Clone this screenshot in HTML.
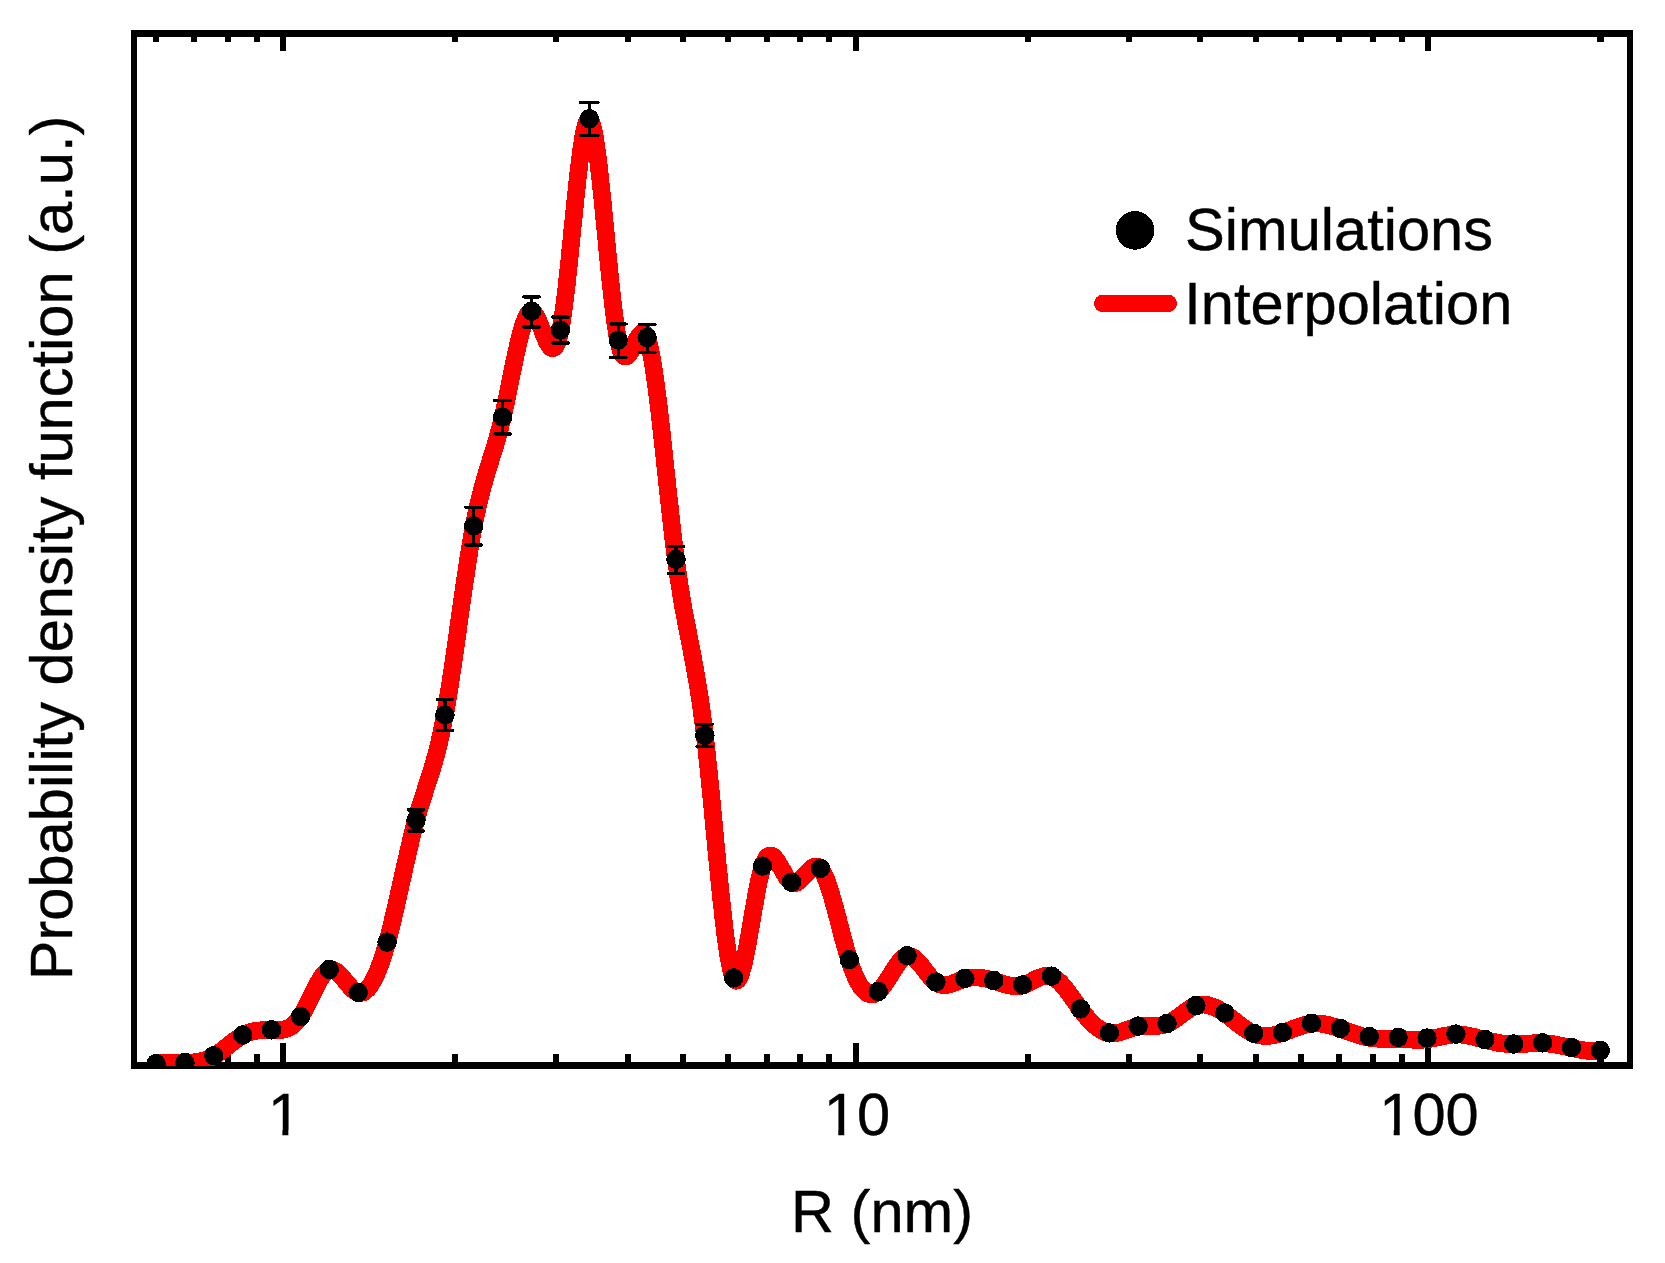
<!DOCTYPE html><html><head><meta charset="utf-8"><title>Probability density function</title>
<style>html,body{margin:0;padding:0;background:#fff}svg{display:block}text{font-family:"Liberation Sans",Arial,sans-serif;fill:#000}</style></head><body>
<svg width="1665" height="1263" viewBox="0 0 1665 1263">
<rect width="1665" height="1263" fill="#fff"/>
<g shape-rendering="crispEdges">
<g fill="#000">
<rect x="131" y="30" width="1502" height="7"/>
<rect x="131" y="1062" width="1502" height="7"/>
<rect x="131" y="30" width="6" height="1039"/>
<rect x="1627" y="30" width="6" height="1039"/>
<rect x="280" y="37" width="6" height="14"/><rect x="280" y="1043" width="6" height="19"/>
<rect x="853" y="37" width="6" height="14"/><rect x="853" y="1043" width="6" height="19"/>
<rect x="1425" y="37" width="6" height="14"/><rect x="1425" y="1043" width="6" height="19"/>
<rect x="153" y="37" width="6" height="5"/><rect x="153" y="1054" width="6" height="8"/>
<rect x="191" y="37" width="6" height="5"/><rect x="191" y="1054" width="6" height="8"/>
<rect x="225" y="37" width="6" height="5"/><rect x="225" y="1054" width="6" height="8"/>
<rect x="254" y="37" width="6" height="5"/><rect x="254" y="1054" width="6" height="8"/>
<rect x="452" y="37" width="6" height="5"/><rect x="452" y="1054" width="6" height="8"/>
<rect x="553" y="37" width="6" height="5"/><rect x="553" y="1054" width="6" height="8"/>
<rect x="625" y="37" width="6" height="5"/><rect x="625" y="1054" width="6" height="8"/>
<rect x="680" y="37" width="6" height="5"/><rect x="680" y="1054" width="6" height="8"/>
<rect x="725" y="37" width="6" height="5"/><rect x="725" y="1054" width="6" height="8"/>
<rect x="764" y="37" width="6" height="5"/><rect x="764" y="1054" width="6" height="8"/>
<rect x="797" y="37" width="6" height="5"/><rect x="797" y="1054" width="6" height="8"/>
<rect x="826" y="37" width="6" height="5"/><rect x="826" y="1054" width="6" height="8"/>
<rect x="1025" y="37" width="6" height="5"/><rect x="1025" y="1054" width="6" height="8"/>
<rect x="1126" y="37" width="6" height="5"/><rect x="1126" y="1054" width="6" height="8"/>
<rect x="1197" y="37" width="6" height="5"/><rect x="1197" y="1054" width="6" height="8"/>
<rect x="1253" y="37" width="6" height="5"/><rect x="1253" y="1054" width="6" height="8"/>
<rect x="1298" y="37" width="6" height="5"/><rect x="1298" y="1054" width="6" height="8"/>
<rect x="1336" y="37" width="6" height="5"/><rect x="1336" y="1054" width="6" height="8"/>
<rect x="1370" y="37" width="6" height="5"/><rect x="1370" y="1054" width="6" height="8"/>
<rect x="1399" y="37" width="6" height="5"/><rect x="1399" y="1054" width="6" height="8"/>
<rect x="1597" y="37" width="7" height="5"/><rect x="1597" y="1054" width="7" height="8"/>
</g>
<clipPath id="plotclip"><rect x="134" y="34" width="1496" height="1032"/></clipPath>
<g clip-path="url(#plotclip)">
<path d="M156.0,1063.6 L157.0,1063.4 L157.9,1063.3 L158.9,1063.1 L159.8,1063.0 L160.8,1062.9 L161.8,1062.8 L162.7,1062.7 L163.7,1062.6 L164.7,1062.6 L165.6,1062.5 L166.6,1062.5 L167.6,1062.5 L168.5,1062.4 L169.5,1062.4 L170.4,1062.4 L171.4,1062.4 L172.4,1062.4 L173.3,1062.4 L174.3,1062.4 L175.3,1062.4 L176.2,1062.4 L177.2,1062.5 L178.2,1062.5 L179.1,1062.5 L180.1,1062.5 L181.0,1062.5 L182.0,1062.5 L183.0,1062.5 L183.9,1062.5 L184.9,1062.5 L185.9,1062.5 L186.8,1062.5 L187.8,1062.4 L188.8,1062.4 L189.7,1062.4 L190.7,1062.3 L191.6,1062.2 L192.6,1062.1 L193.6,1062.1 L194.5,1061.9 L195.5,1061.8 L196.5,1061.7 L197.4,1061.5 L198.4,1061.4 L199.4,1061.2 L200.3,1061.0 L201.3,1060.8 L202.2,1060.5 L203.2,1060.3 L204.2,1060.0 L205.1,1059.7 L206.1,1059.3 L207.1,1059.0 L208.0,1058.6 L209.0,1058.2 L209.9,1057.8 L210.9,1057.3 L211.9,1056.8 L212.8,1056.3 L213.8,1055.8 L214.8,1055.2 L215.7,1054.6 L216.7,1054.0 L217.7,1053.3 L218.6,1052.7 L219.6,1052.0 L220.5,1051.3 L221.5,1050.5 L222.5,1049.8 L223.4,1049.1 L224.4,1048.3 L225.4,1047.5 L226.3,1046.8 L227.3,1046.0 L228.3,1045.2 L229.2,1044.4 L230.2,1043.7 L231.1,1042.9 L232.1,1042.2 L233.1,1041.4 L234.0,1040.7 L235.0,1040.0 L236.0,1039.3 L236.9,1038.6 L237.9,1037.9 L238.9,1037.3 L239.8,1036.7 L240.8,1036.1 L241.7,1035.5 L242.7,1035.0 L243.7,1034.5 L244.6,1034.0 L245.6,1033.6 L246.6,1033.2 L247.5,1032.8 L248.5,1032.4 L249.5,1032.1 L250.4,1031.8 L251.4,1031.5 L252.3,1031.3 L253.3,1031.1 L254.3,1030.8 L255.2,1030.7 L256.2,1030.5 L257.2,1030.4 L258.1,1030.2 L259.1,1030.1 L260.1,1030.0 L261.0,1029.9 L262.0,1029.9 L262.9,1029.8 L263.9,1029.8 L264.9,1029.8 L265.8,1029.7 L266.8,1029.7 L267.8,1029.7 L268.7,1029.7 L269.7,1029.8 L270.7,1029.8 L271.6,1029.8 L272.6,1029.8 L273.5,1029.9 L274.5,1029.9 L275.5,1029.9 L276.4,1029.9 L277.4,1029.9 L278.4,1029.9 L279.3,1029.8 L280.3,1029.7 L281.3,1029.7 L282.2,1029.5 L283.2,1029.4 L284.1,1029.1 L285.1,1028.9 L286.1,1028.6 L287.0,1028.3 L288.0,1027.9 L289.0,1027.4 L289.9,1026.9 L290.9,1026.3 L291.9,1025.7 L292.8,1025.0 L293.8,1024.2 L294.7,1023.3 L295.7,1022.4 L296.7,1021.4 L297.6,1020.3 L298.6,1019.1 L299.6,1017.8 L300.5,1016.4 L301.5,1014.9 L302.4,1013.3 L303.4,1011.6 L304.4,1009.9 L305.3,1008.1 L306.3,1006.2 L307.3,1004.3 L308.2,1002.4 L309.2,1000.4 L310.2,998.4 L311.1,996.4 L312.1,994.4 L313.0,992.5 L314.0,990.5 L315.0,988.6 L315.9,986.7 L316.9,984.8 L317.9,983.0 L318.8,981.3 L319.8,979.7 L320.8,978.1 L321.7,976.7 L322.7,975.3 L323.6,974.1 L324.6,972.9 L325.6,971.9 L326.5,971.1 L327.5,970.4 L328.5,969.8 L329.4,969.5 L330.4,969.3 L331.4,969.2 L332.3,969.3 L333.3,969.6 L334.2,970.0 L335.2,970.5 L336.2,971.1 L337.1,971.9 L338.1,972.7 L339.1,973.6 L340.0,974.6 L341.0,975.6 L342.0,976.7 L342.9,977.8 L343.9,978.9 L344.8,980.1 L345.8,981.3 L346.8,982.5 L347.7,983.6 L348.7,984.7 L349.7,985.8 L350.6,986.9 L351.6,987.9 L352.6,988.8 L353.5,989.7 L354.5,990.4 L355.4,991.1 L356.4,991.7 L357.4,992.1 L358.3,992.4 L359.3,992.6 L360.3,992.7 L361.2,992.6 L362.2,992.3 L363.2,992.0 L364.1,991.5 L365.1,990.8 L366.0,990.1 L367.0,989.2 L368.0,988.2 L368.9,987.0 L369.9,985.7 L370.9,984.3 L371.8,982.8 L372.8,981.1 L373.8,979.3 L374.7,977.4 L375.7,975.4 L376.6,973.2 L377.6,970.9 L378.6,968.5 L379.5,966.0 L380.5,963.3 L381.5,960.6 L382.4,957.7 L383.4,954.7 L384.4,951.6 L385.3,948.3 L386.3,945.0 L387.2,941.5 L388.2,938.0 L389.2,934.3 L390.1,930.5 L391.1,926.7 L392.1,922.7 L393.0,918.7 L394.0,914.6 L394.9,910.5 L395.9,906.3 L396.9,902.0 L397.8,897.8 L398.8,893.5 L399.8,889.1 L400.7,884.8 L401.7,880.4 L402.7,876.1 L403.6,871.8 L404.6,867.4 L405.5,863.1 L406.5,858.9 L407.5,854.6 L408.4,850.5 L409.4,846.3 L410.4,842.3 L411.3,838.3 L412.3,834.3 L413.3,830.5 L414.2,826.8 L415.2,823.1 L416.1,819.6 L417.1,816.1 L418.1,812.8 L419.0,809.6 L420.0,806.4 L421.0,803.3 L421.9,800.2 L422.9,797.2 L423.9,794.2 L424.8,791.3 L425.8,788.3 L426.7,785.4 L427.7,782.4 L428.7,779.4 L429.6,776.4 L430.6,773.3 L431.6,770.2 L432.5,767.0 L433.5,763.7 L434.5,760.3 L435.4,756.9 L436.4,753.3 L437.3,749.5 L438.3,745.7 L439.3,741.7 L440.2,737.5 L441.2,733.2 L442.2,728.6 L443.1,723.9 L444.1,719.0 L445.1,713.9 L446.0,708.5 L447.0,702.9 L447.9,697.2 L448.9,691.2 L449.9,685.1 L450.8,678.9 L451.8,672.5 L452.8,666.0 L453.7,659.4 L454.7,652.7 L455.7,646.0 L456.6,639.2 L457.6,632.3 L458.5,625.5 L459.5,618.6 L460.5,611.7 L461.4,604.9 L462.4,598.0 L463.4,591.3 L464.3,584.6 L465.3,578.0 L466.3,571.5 L467.2,565.1 L468.2,558.8 L469.1,552.6 L470.1,546.7 L471.1,540.9 L472.0,535.3 L473.0,529.9 L474.0,524.7 L474.9,519.7 L475.9,515.0 L476.9,510.4 L477.8,506.1 L478.8,501.9 L479.7,497.9 L480.7,494.0 L481.7,490.3 L482.6,486.7 L483.6,483.2 L484.6,479.8 L485.5,476.5 L486.5,473.3 L487.4,470.1 L488.4,466.9 L489.4,463.8 L490.3,460.7 L491.3,457.6 L492.3,454.5 L493.2,451.4 L494.2,448.3 L495.2,445.1 L496.1,441.8 L497.1,438.5 L498.0,435.0 L499.0,431.5 L500.0,427.9 L500.9,424.1 L501.9,420.2 L502.9,416.1 L503.8,411.9 L504.8,407.5 L505.8,403.0 L506.7,398.5 L507.7,393.8 L508.6,389.1 L509.6,384.4 L510.6,379.6 L511.5,374.8 L512.5,370.1 L513.5,365.4 L514.4,360.7 L515.4,356.2 L516.4,351.7 L517.3,347.4 L518.3,343.2 L519.2,339.2 L520.2,335.4 L521.2,331.8 L522.1,328.4 L523.1,325.2 L524.1,322.3 L525.0,319.7 L526.0,317.4 L527.0,315.5 L527.9,313.8 L528.9,312.6 L529.8,311.7 L530.8,311.3 L531.8,311.2 L532.7,311.6 L533.7,312.4 L534.7,313.6 L535.6,315.0 L536.6,316.7 L537.6,318.7 L538.5,320.8 L539.5,323.1 L540.4,325.5 L541.4,327.9 L542.4,330.4 L543.3,332.9 L544.3,335.3 L545.3,337.6 L546.2,339.8 L547.2,341.8 L548.2,343.6 L549.1,345.1 L550.1,346.4 L551.0,347.3 L552.0,347.8 L553.0,347.9 L553.9,347.5 L554.9,346.6 L555.9,345.2 L556.8,343.2 L557.8,340.6 L558.8,337.3 L559.7,333.3 L560.7,328.6 L561.6,323.1 L562.6,316.9 L563.6,310.1 L564.5,302.8 L565.5,294.9 L566.5,286.6 L567.4,277.9 L568.4,268.8 L569.4,259.6 L570.3,250.1 L571.3,240.6 L572.2,230.9 L573.2,221.3 L574.2,211.7 L575.1,202.3 L576.1,193.0 L577.1,184.0 L578.0,175.3 L579.0,167.0 L579.9,159.2 L580.9,151.8 L581.9,145.1 L582.8,138.9 L583.8,133.5 L584.8,128.8 L585.7,124.9 L586.7,121.9 L587.7,119.9 L588.6,118.9 L589.6,118.9 L590.5,120.1 L591.5,122.3 L592.5,125.4 L593.4,129.5 L594.4,134.4 L595.4,140.1 L596.3,146.5 L597.3,153.5 L598.3,161.2 L599.2,169.3 L600.2,177.9 L601.1,186.9 L602.1,196.2 L603.1,205.8 L604.0,215.6 L605.0,225.4 L606.0,235.4 L606.9,245.4 L607.9,255.3 L608.9,265.1 L609.8,274.6 L610.8,284.0 L611.7,293.0 L612.7,301.6 L613.7,309.7 L614.6,317.4 L615.6,324.4 L616.6,330.9 L617.5,336.6 L618.5,341.5 L619.5,345.6 L620.4,349.0 L621.4,351.7 L622.3,353.7 L623.3,355.1 L624.3,356.0 L625.2,356.3 L626.2,356.2 L627.2,355.7 L628.1,354.8 L629.1,353.7 L630.1,352.2 L631.0,350.6 L632.0,348.8 L632.9,346.8 L633.9,344.9 L634.9,342.9 L635.8,340.9 L636.8,339.1 L637.8,337.3 L638.7,335.8 L639.7,334.5 L640.7,333.5 L641.6,332.8 L642.6,332.5 L643.5,332.6 L644.5,333.2 L645.5,334.4 L646.4,336.1 L647.4,338.5 L648.4,341.5 L649.3,345.1 L650.3,349.3 L651.3,354.1 L652.2,359.4 L653.2,365.2 L654.1,371.4 L655.1,378.1 L656.1,385.1 L657.0,392.5 L658.0,400.2 L659.0,408.1 L659.9,416.4 L660.9,424.8 L661.9,433.4 L662.8,442.2 L663.8,451.1 L664.7,460.1 L665.7,469.1 L666.7,478.2 L667.6,487.2 L668.6,496.2 L669.6,505.0 L670.5,513.8 L671.5,522.4 L672.4,530.8 L673.4,539.0 L674.4,547.0 L675.3,554.7 L676.3,562.0 L677.3,569.0 L678.2,575.7 L679.2,582.1 L680.2,588.3 L681.1,594.2 L682.1,599.9 L683.0,605.5 L684.0,610.8 L685.0,616.1 L685.9,621.2 L686.9,626.2 L687.9,631.2 L688.8,636.1 L689.8,641.0 L690.8,646.0 L691.7,651.0 L692.7,656.0 L693.6,661.1 L694.6,666.4 L695.6,671.7 L696.5,677.3 L697.5,683.0 L698.5,688.9 L699.4,695.1 L700.4,701.5 L701.4,708.2 L702.3,715.3 L703.3,722.6 L704.2,730.3 L705.2,738.4 L706.2,746.9 L707.1,755.7 L708.1,764.9 L709.1,774.3 L710.0,783.9 L711.0,793.7 L712.0,803.6 L712.9,813.6 L713.9,823.7 L714.8,833.9 L715.8,844.0 L716.8,854.0 L717.7,864.0 L718.7,873.8 L719.7,883.4 L720.6,892.8 L721.6,901.9 L722.6,910.8 L723.5,919.3 L724.5,927.4 L725.4,935.1 L726.4,942.3 L727.4,949.0 L728.3,955.2 L729.3,960.8 L730.3,965.8 L731.2,970.1 L732.2,973.7 L733.2,976.6 L734.1,978.6 L735.1,979.9 L736.0,980.4 L737.0,980.3 L738.0,979.4 L738.9,978.0 L739.9,975.9 L740.9,973.4 L741.8,970.3 L742.8,966.8 L743.8,962.9 L744.7,958.6 L745.7,954.0 L746.6,949.1 L747.6,943.9 L748.6,938.6 L749.5,933.2 L750.5,927.6 L751.5,921.9 L752.4,916.3 L753.4,910.6 L754.4,905.1 L755.3,899.6 L756.3,894.3 L757.2,889.2 L758.2,884.3 L759.2,879.7 L760.1,875.4 L761.1,871.5 L762.1,867.9 L763.0,864.9 L764.0,862.3 L764.9,860.1 L765.9,858.4 L766.9,857.0 L767.8,856.0 L768.8,855.4 L769.8,855.1 L770.7,855.1 L771.7,855.3 L772.7,855.8 L773.6,856.6 L774.6,857.5 L775.5,858.6 L776.5,859.9 L777.5,861.3 L778.4,862.9 L779.4,864.5 L780.4,866.1 L781.3,867.9 L782.3,869.6 L783.3,871.3 L784.2,873.0 L785.2,874.6 L786.1,876.2 L787.1,877.6 L788.1,878.9 L789.0,880.1 L790.0,881.1 L791.0,881.9 L791.9,882.4 L792.9,882.8 L793.9,882.9 L794.8,882.8 L795.8,882.6 L796.7,882.2 L797.7,881.6 L798.7,880.9 L799.6,880.2 L800.6,879.3 L801.6,878.3 L802.5,877.3 L803.5,876.2 L804.5,875.2 L805.4,874.1 L806.4,873.0 L807.3,871.9 L808.3,870.9 L809.3,869.9 L810.2,869.0 L811.2,868.2 L812.2,867.5 L813.1,866.9 L814.1,866.5 L815.1,866.2 L816.0,866.2 L817.0,866.3 L817.9,866.6 L818.9,867.1 L819.9,867.9 L820.8,868.9 L821.8,870.2 L822.8,871.8 L823.7,873.5 L824.7,875.5 L825.7,877.8 L826.6,880.2 L827.6,882.7 L828.5,885.5 L829.5,888.4 L830.5,891.5 L831.4,894.6 L832.4,897.9 L833.4,901.3 L834.3,904.8 L835.3,908.3 L836.3,912.0 L837.2,915.6 L838.2,919.3 L839.1,923.0 L840.1,926.7 L841.1,930.4 L842.0,934.1 L843.0,937.7 L844.0,941.3 L844.9,944.9 L845.9,948.3 L846.9,951.7 L847.8,955.0 L848.8,958.1 L849.7,961.1 L850.7,964.0 L851.7,966.8 L852.6,969.4 L853.6,971.8 L854.6,974.2 L855.5,976.4 L856.5,978.5 L857.4,980.4 L858.4,982.2 L859.4,983.9 L860.3,985.4 L861.3,986.9 L862.3,988.2 L863.2,989.3 L864.2,990.3 L865.2,991.3 L866.1,992.0 L867.1,992.7 L868.0,993.2 L869.0,993.6 L870.0,993.9 L870.9,994.1 L871.9,994.1 L872.9,994.0 L873.8,993.8 L874.8,993.5 L875.8,993.0 L876.7,992.5 L877.7,991.8 L878.6,991.0 L879.6,990.1 L880.6,989.1 L881.5,987.9 L882.5,986.7 L883.5,985.5 L884.4,984.1 L885.4,982.7 L886.4,981.3 L887.3,979.8 L888.3,978.3 L889.2,976.7 L890.2,975.2 L891.2,973.6 L892.1,972.1 L893.1,970.5 L894.1,969.0 L895.0,967.6 L896.0,966.1 L897.0,964.7 L897.9,963.4 L898.9,962.2 L899.8,961.0 L900.8,959.9 L901.8,958.9 L902.7,958.1 L903.7,957.3 L904.7,956.7 L905.6,956.2 L906.6,955.8 L907.6,955.6 L908.5,955.6 L909.5,955.7 L910.4,955.9 L911.4,956.2 L912.4,956.7 L913.3,957.3 L914.3,958.0 L915.3,958.8 L916.2,959.6 L917.2,960.6 L918.2,961.6 L919.1,962.6 L920.1,963.8 L921.0,964.9 L922.0,966.1 L923.0,967.3 L923.9,968.6 L924.9,969.8 L925.9,971.1 L926.8,972.3 L927.8,973.5 L928.8,974.7 L929.7,975.9 L930.7,977.0 L931.6,978.1 L932.6,979.1 L933.6,980.0 L934.5,980.9 L935.5,981.7 L936.5,982.4 L937.4,983.0 L938.4,983.5 L939.4,983.9 L940.3,984.2 L941.3,984.5 L942.2,984.6 L943.2,984.8 L944.2,984.8 L945.1,984.8 L946.1,984.7 L947.1,984.6 L948.0,984.4 L949.0,984.2 L949.9,984.0 L950.9,983.7 L951.9,983.4 L952.8,983.0 L953.8,982.7 L954.8,982.3 L955.7,981.9 L956.7,981.5 L957.7,981.1 L958.6,980.7 L959.6,980.3 L960.5,979.9 L961.5,979.5 L962.5,979.2 L963.4,978.8 L964.4,978.5 L965.4,978.2 L966.3,978.0 L967.3,977.8 L968.3,977.6 L969.2,977.4 L970.2,977.3 L971.1,977.2 L972.1,977.1 L973.1,977.0 L974.0,977.0 L975.0,977.0 L976.0,977.0 L976.9,977.1 L977.9,977.1 L978.9,977.2 L979.8,977.3 L980.8,977.4 L981.7,977.6 L982.7,977.7 L983.7,977.9 L984.6,978.1 L985.6,978.3 L986.6,978.5 L987.5,978.8 L988.5,979.0 L989.5,979.3 L990.4,979.5 L991.4,979.8 L992.3,980.1 L993.3,980.4 L994.3,980.7 L995.2,981.0 L996.2,981.3 L997.2,981.6 L998.1,981.9 L999.1,982.2 L1000.1,982.6 L1001.0,982.9 L1002.0,983.2 L1002.9,983.5 L1003.9,983.7 L1004.9,984.0 L1005.8,984.3 L1006.8,984.5 L1007.8,984.7 L1008.7,985.0 L1009.7,985.1 L1010.7,985.3 L1011.6,985.5 L1012.6,985.6 L1013.5,985.7 L1014.5,985.7 L1015.5,985.8 L1016.4,985.8 L1017.4,985.7 L1018.4,985.7 L1019.3,985.6 L1020.3,985.4 L1021.3,985.2 L1022.2,985.0 L1023.2,984.7 L1024.1,984.4 L1025.1,984.1 L1026.1,983.7 L1027.0,983.3 L1028.0,982.8 L1029.0,982.4 L1029.9,981.9 L1030.9,981.4 L1031.9,980.9 L1032.8,980.4 L1033.8,979.9 L1034.7,979.4 L1035.7,978.9 L1036.7,978.4 L1037.6,978.0 L1038.6,977.6 L1039.6,977.2 L1040.5,976.8 L1041.5,976.5 L1042.4,976.2 L1043.4,975.9 L1044.4,975.7 L1045.3,975.6 L1046.3,975.5 L1047.3,975.5 L1048.2,975.5 L1049.2,975.6 L1050.2,975.8 L1051.1,976.1 L1052.1,976.4 L1053.0,976.9 L1054.0,977.4 L1055.0,978.0 L1055.9,978.6 L1056.9,979.4 L1057.9,980.2 L1058.8,981.0 L1059.8,981.9 L1060.8,982.9 L1061.7,983.9 L1062.7,985.0 L1063.6,986.1 L1064.6,987.3 L1065.6,988.5 L1066.5,989.7 L1067.5,991.0 L1068.5,992.2 L1069.4,993.5 L1070.4,994.9 L1071.4,996.2 L1072.3,997.6 L1073.3,998.9 L1074.2,1000.3 L1075.2,1001.6 L1076.2,1003.0 L1077.1,1004.3 L1078.1,1005.7 L1079.1,1007.0 L1080.0,1008.3 L1081.0,1009.6 L1082.0,1010.9 L1082.9,1012.1 L1083.9,1013.4 L1084.8,1014.6 L1085.8,1015.7 L1086.8,1016.9 L1087.7,1018.0 L1088.7,1019.0 L1089.7,1020.1 L1090.6,1021.1 L1091.6,1022.1 L1092.6,1023.0 L1093.5,1024.0 L1094.5,1024.8 L1095.4,1025.7 L1096.4,1026.5 L1097.4,1027.2 L1098.3,1027.9 L1099.3,1028.6 L1100.3,1029.3 L1101.2,1029.8 L1102.2,1030.4 L1103.2,1030.9 L1104.1,1031.3 L1105.1,1031.7 L1106.0,1032.1 L1107.0,1032.4 L1108.0,1032.6 L1108.9,1032.8 L1109.9,1033.0 L1110.9,1033.1 L1111.8,1033.1 L1112.8,1033.1 L1113.8,1033.1 L1114.7,1033.0 L1115.7,1032.9 L1116.6,1032.7 L1117.6,1032.5 L1118.6,1032.3 L1119.5,1032.0 L1120.5,1031.8 L1121.5,1031.5 L1122.4,1031.2 L1123.4,1030.8 L1124.4,1030.5 L1125.3,1030.2 L1126.3,1029.8 L1127.2,1029.5 L1128.2,1029.1 L1129.2,1028.8 L1130.1,1028.4 L1131.1,1028.1 L1132.1,1027.7 L1133.0,1027.4 L1134.0,1027.1 L1134.9,1026.8 L1135.9,1026.6 L1136.9,1026.4 L1137.8,1026.2 L1138.8,1026.0 L1139.8,1025.8 L1140.7,1025.7 L1141.7,1025.6 L1142.7,1025.6 L1143.6,1025.5 L1144.6,1025.5 L1145.5,1025.5 L1146.5,1025.5 L1147.5,1025.5 L1148.4,1025.5 L1149.4,1025.5 L1150.4,1025.6 L1151.3,1025.6 L1152.3,1025.6 L1153.3,1025.6 L1154.2,1025.6 L1155.2,1025.6 L1156.1,1025.6 L1157.1,1025.5 L1158.1,1025.5 L1159.0,1025.4 L1160.0,1025.3 L1161.0,1025.1 L1161.9,1025.0 L1162.9,1024.8 L1163.9,1024.5 L1164.8,1024.3 L1165.8,1024.0 L1166.7,1023.6 L1167.7,1023.2 L1168.7,1022.8 L1169.6,1022.3 L1170.6,1021.8 L1171.6,1021.2 L1172.5,1020.6 L1173.5,1020.0 L1174.5,1019.4 L1175.4,1018.7 L1176.4,1018.1 L1177.3,1017.4 L1178.3,1016.7 L1179.3,1016.0 L1180.2,1015.2 L1181.2,1014.5 L1182.2,1013.8 L1183.1,1013.1 L1184.1,1012.4 L1185.1,1011.7 L1186.0,1011.0 L1187.0,1010.3 L1187.9,1009.7 L1188.9,1009.1 L1189.9,1008.5 L1190.8,1007.9 L1191.8,1007.3 L1192.8,1006.8 L1193.7,1006.4 L1194.7,1006.0 L1195.7,1005.6 L1196.6,1005.3 L1197.6,1005.0 L1198.5,1004.8 L1199.5,1004.6 L1200.5,1004.4 L1201.4,1004.4 L1202.4,1004.3 L1203.4,1004.3 L1204.3,1004.3 L1205.3,1004.4 L1206.3,1004.5 L1207.2,1004.7 L1208.2,1004.9 L1209.1,1005.1 L1210.1,1005.4 L1211.1,1005.7 L1212.0,1006.0 L1213.0,1006.4 L1214.0,1006.7 L1214.9,1007.2 L1215.9,1007.6 L1216.9,1008.1 L1217.8,1008.6 L1218.8,1009.1 L1219.7,1009.7 L1220.7,1010.3 L1221.7,1010.9 L1222.6,1011.5 L1223.6,1012.2 L1224.6,1012.8 L1225.5,1013.5 L1226.5,1014.2 L1227.4,1014.9 L1228.4,1015.7 L1229.4,1016.4 L1230.3,1017.1 L1231.3,1017.9 L1232.3,1018.7 L1233.2,1019.4 L1234.2,1020.2 L1235.2,1021.0 L1236.1,1021.8 L1237.1,1022.5 L1238.0,1023.3 L1239.0,1024.0 L1240.0,1024.8 L1240.9,1025.5 L1241.9,1026.2 L1242.9,1026.9 L1243.8,1027.6 L1244.8,1028.3 L1245.8,1028.9 L1246.7,1029.6 L1247.7,1030.2 L1248.6,1030.8 L1249.6,1031.3 L1250.6,1031.8 L1251.5,1032.3 L1252.5,1032.8 L1253.5,1033.2 L1254.4,1033.6 L1255.4,1033.9 L1256.4,1034.3 L1257.3,1034.5 L1258.3,1034.8 L1259.2,1035.0 L1260.2,1035.2 L1261.2,1035.3 L1262.1,1035.4 L1263.1,1035.5 L1264.1,1035.6 L1265.0,1035.6 L1266.0,1035.6 L1267.0,1035.6 L1267.9,1035.6 L1268.9,1035.5 L1269.8,1035.4 L1270.8,1035.3 L1271.8,1035.1 L1272.7,1035.0 L1273.7,1034.8 L1274.7,1034.6 L1275.6,1034.4 L1276.6,1034.2 L1277.6,1033.9 L1278.5,1033.7 L1279.5,1033.4 L1280.4,1033.1 L1281.4,1032.8 L1282.4,1032.5 L1283.3,1032.1 L1284.3,1031.8 L1285.3,1031.5 L1286.2,1031.1 L1287.2,1030.8 L1288.2,1030.4 L1289.1,1030.0 L1290.1,1029.7 L1291.0,1029.3 L1292.0,1028.9 L1293.0,1028.5 L1293.9,1028.2 L1294.9,1027.8 L1295.9,1027.5 L1296.8,1027.1 L1297.8,1026.8 L1298.8,1026.4 L1299.7,1026.1 L1300.7,1025.8 L1301.6,1025.5 L1302.6,1025.2 L1303.6,1024.9 L1304.5,1024.6 L1305.5,1024.4 L1306.5,1024.2 L1307.4,1023.9 L1308.4,1023.8 L1309.4,1023.6 L1310.3,1023.4 L1311.3,1023.3 L1312.2,1023.2 L1313.2,1023.2 L1314.2,1023.1 L1315.1,1023.1 L1316.1,1023.1 L1317.1,1023.1 L1318.0,1023.1 L1319.0,1023.2 L1319.9,1023.3 L1320.9,1023.4 L1321.9,1023.5 L1322.8,1023.6 L1323.8,1023.8 L1324.8,1024.0 L1325.7,1024.2 L1326.7,1024.4 L1327.7,1024.6 L1328.6,1024.8 L1329.6,1025.0 L1330.5,1025.3 L1331.5,1025.6 L1332.5,1025.8 L1333.4,1026.1 L1334.4,1026.4 L1335.4,1026.7 L1336.3,1027.0 L1337.3,1027.4 L1338.3,1027.7 L1339.2,1028.0 L1340.2,1028.3 L1341.1,1028.7 L1342.1,1029.0 L1343.1,1029.4 L1344.0,1029.7 L1345.0,1030.1 L1346.0,1030.4 L1346.9,1030.8 L1347.9,1031.1 L1348.9,1031.5 L1349.8,1031.8 L1350.8,1032.2 L1351.7,1032.5 L1352.7,1032.8 L1353.7,1033.2 L1354.6,1033.5 L1355.6,1033.8 L1356.6,1034.1 L1357.5,1034.4 L1358.5,1034.7 L1359.5,1035.0 L1360.4,1035.3 L1361.4,1035.6 L1362.3,1035.9 L1363.3,1036.1 L1364.3,1036.4 L1365.2,1036.6 L1366.2,1036.8 L1367.2,1037.0 L1368.1,1037.2 L1369.1,1037.4 L1370.1,1037.5 L1371.0,1037.7 L1372.0,1037.8 L1372.9,1037.9 L1373.9,1038.0 L1374.9,1038.1 L1375.8,1038.2 L1376.8,1038.3 L1377.8,1038.3 L1378.7,1038.4 L1379.7,1038.4 L1380.7,1038.4 L1381.6,1038.5 L1382.6,1038.5 L1383.5,1038.5 L1384.5,1038.5 L1385.5,1038.5 L1386.4,1038.5 L1387.4,1038.5 L1388.4,1038.5 L1389.3,1038.5 L1390.3,1038.5 L1391.3,1038.5 L1392.2,1038.5 L1393.2,1038.5 L1394.1,1038.5 L1395.1,1038.5 L1396.1,1038.6 L1397.0,1038.6 L1398.0,1038.6 L1399.0,1038.6 L1399.9,1038.7 L1400.9,1038.7 L1401.9,1038.7 L1402.8,1038.8 L1403.8,1038.8 L1404.7,1038.9 L1405.7,1039.0 L1406.7,1039.0 L1407.6,1039.1 L1408.6,1039.1 L1409.6,1039.2 L1410.5,1039.2 L1411.5,1039.3 L1412.4,1039.3 L1413.4,1039.4 L1414.4,1039.4 L1415.3,1039.4 L1416.3,1039.4 L1417.3,1039.5 L1418.2,1039.5 L1419.2,1039.5 L1420.2,1039.5 L1421.1,1039.4 L1422.1,1039.4 L1423.0,1039.3 L1424.0,1039.3 L1425.0,1039.2 L1425.9,1039.1 L1426.9,1039.0 L1427.9,1038.9 L1428.8,1038.8 L1429.8,1038.6 L1430.8,1038.4 L1431.7,1038.3 L1432.7,1038.1 L1433.6,1037.9 L1434.6,1037.7 L1435.6,1037.5 L1436.5,1037.3 L1437.5,1037.1 L1438.5,1036.9 L1439.4,1036.7 L1440.4,1036.4 L1441.4,1036.2 L1442.3,1036.0 L1443.3,1035.8 L1444.2,1035.6 L1445.2,1035.4 L1446.2,1035.2 L1447.1,1035.1 L1448.1,1034.9 L1449.1,1034.7 L1450.0,1034.6 L1451.0,1034.5 L1452.0,1034.4 L1452.9,1034.3 L1453.9,1034.2 L1454.8,1034.1 L1455.8,1034.1 L1456.8,1034.1 L1457.7,1034.1 L1458.7,1034.1 L1459.7,1034.2 L1460.6,1034.2 L1461.6,1034.3 L1462.6,1034.4 L1463.5,1034.6 L1464.5,1034.7 L1465.4,1034.8 L1466.4,1035.0 L1467.4,1035.2 L1468.3,1035.4 L1469.3,1035.6 L1470.3,1035.8 L1471.2,1036.0 L1472.2,1036.2 L1473.2,1036.4 L1474.1,1036.7 L1475.1,1036.9 L1476.0,1037.2 L1477.0,1037.4 L1478.0,1037.7 L1478.9,1037.9 L1479.9,1038.2 L1480.9,1038.5 L1481.8,1038.7 L1482.8,1039.0 L1483.8,1039.2 L1484.7,1039.5 L1485.7,1039.7 L1486.6,1040.0 L1487.6,1040.2 L1488.6,1040.4 L1489.5,1040.7 L1490.5,1040.9 L1491.5,1041.1 L1492.4,1041.3 L1493.4,1041.5 L1494.4,1041.7 L1495.3,1041.9 L1496.3,1042.1 L1497.2,1042.3 L1498.2,1042.5 L1499.2,1042.6 L1500.1,1042.8 L1501.1,1042.9 L1502.1,1043.1 L1503.0,1043.2 L1504.0,1043.3 L1504.9,1043.4 L1505.9,1043.5 L1506.9,1043.6 L1507.8,1043.7 L1508.8,1043.8 L1509.8,1043.9 L1510.7,1043.9 L1511.7,1044.0 L1512.7,1044.0 L1513.6,1044.0 L1514.6,1044.0 L1515.5,1044.0 L1516.5,1044.0 L1517.5,1044.0 L1518.4,1043.9 L1519.4,1043.9 L1520.4,1043.8 L1521.3,1043.8 L1522.3,1043.7 L1523.3,1043.7 L1524.2,1043.6 L1525.2,1043.5 L1526.1,1043.5 L1527.1,1043.4 L1528.1,1043.3 L1529.0,1043.2 L1530.0,1043.2 L1531.0,1043.1 L1531.9,1043.0 L1532.9,1043.0 L1533.9,1042.9 L1534.8,1042.9 L1535.8,1042.8 L1536.7,1042.8 L1537.7,1042.8 L1538.7,1042.8 L1539.6,1042.8 L1540.6,1042.8 L1541.6,1042.8 L1542.5,1042.8 L1543.5,1042.8 L1544.5,1042.9 L1545.4,1043.0 L1546.4,1043.0 L1547.3,1043.1 L1548.3,1043.2 L1549.3,1043.3 L1550.2,1043.5 L1551.2,1043.6 L1552.2,1043.7 L1553.1,1043.9 L1554.1,1044.0 L1555.1,1044.2 L1556.0,1044.4 L1557.0,1044.6 L1557.9,1044.7 L1558.9,1044.9 L1559.9,1045.1 L1560.8,1045.3 L1561.8,1045.5 L1562.8,1045.7 L1563.7,1045.9 L1564.7,1046.1 L1565.7,1046.3 L1566.6,1046.5 L1567.6,1046.8 L1568.5,1047.0 L1569.5,1047.2 L1570.5,1047.4 L1571.4,1047.6 L1572.4,1047.8 L1573.4,1048.0 L1574.3,1048.2 L1575.3,1048.4 L1576.3,1048.6 L1577.2,1048.8 L1578.2,1049.0 L1579.1,1049.1 L1580.1,1049.3 L1581.1,1049.5 L1582.0,1049.6 L1583.0,1049.8 L1584.0,1049.9 L1584.9,1050.0 L1585.9,1050.2 L1586.9,1050.3 L1587.8,1050.4 L1588.8,1050.5 L1589.7,1050.5 L1590.7,1050.6 L1591.7,1050.7 L1592.6,1050.7 L1593.6,1050.7 L1594.6,1050.7 L1595.5,1050.7 L1596.5,1050.7 L1597.4,1050.7 L1598.4,1050.6 L1599.4,1050.6 L1600.3,1050.5" fill="none" stroke="#ff0000" stroke-width="17.7" stroke-linejoin="round" stroke-linecap="butt" transform="translate(0,0.35)"/>
<g stroke="#000" stroke-width="3.2" stroke-linecap="round" fill="none">
<path d="M416.0,809.9V831.0M408.1,809.9H423.9M408.1,831.0H423.9"/>
<path d="M444.9,699.1V730.7M437.0,699.1H452.8M437.0,730.7H452.8"/>
<path d="M473.7,507.4V544.9M465.8,507.4H481.6M465.8,544.9H481.6"/>
<path d="M502.6,400.6V433.9M494.7,400.6H510.5M494.7,433.9H510.5"/>
<path d="M531.5,296.9V327.0M523.6,296.9H539.4M523.6,327.0H539.4"/>
<path d="M560.4,317.0V343.0M552.5,317.0H568.3M552.5,343.0H568.3"/>
<path d="M589.3,102.4V135.4M580.5,102.4H598.1M580.5,135.4H598.1"/>
<path d="M618.2,324.0V357.4M610.3,324.0H626.1M610.3,357.4H626.1"/>
<path d="M647.1,324.4V352.5M639.2,324.4H655.0M639.2,352.5H655.0"/>
<path d="M676.0,546.8V573.2M668.1,546.8H683.9M668.1,573.2H683.9"/>
<path d="M704.8,724.1V746.5M696.9,724.1H712.7M696.9,746.5H712.7"/>
</g>
<g fill="#000">
<circle cx="156.0" cy="1063.6" r="9.75"/>
<circle cx="184.9" cy="1062.5" r="9.75"/>
<circle cx="213.8" cy="1055.8" r="9.75"/>
<circle cx="242.7" cy="1035.0" r="9.75"/>
<circle cx="271.5" cy="1029.8" r="9.75"/>
<circle cx="300.4" cy="1016.5" r="9.75"/>
<circle cx="329.3" cy="969.5" r="9.75"/>
<circle cx="358.2" cy="992.4" r="9.75"/>
<circle cx="387.1" cy="942.1" r="9.75"/>
<circle cx="416.0" cy="820.2" r="9.75"/>
<circle cx="444.9" cy="714.9" r="9.75"/>
<circle cx="473.7" cy="525.8" r="9.75"/>
<circle cx="502.6" cy="417.1" r="9.75"/>
<circle cx="531.5" cy="311.2" r="9.75"/>
<circle cx="560.4" cy="330.0" r="9.75"/>
<circle cx="589.3" cy="118.8" r="9.75"/>
<circle cx="618.2" cy="340.0" r="9.75"/>
<circle cx="647.1" cy="337.6" r="9.75"/>
<circle cx="676.0" cy="559.4" r="9.75"/>
<circle cx="704.8" cy="735.3" r="9.75"/>
<circle cx="733.7" cy="977.9" r="9.75"/>
<circle cx="762.6" cy="866.1" r="9.75"/>
<circle cx="791.5" cy="882.2" r="9.75"/>
<circle cx="820.4" cy="868.4" r="9.75"/>
<circle cx="849.3" cy="959.7" r="9.75"/>
<circle cx="878.2" cy="991.4" r="9.75"/>
<circle cx="907.1" cy="955.7" r="9.75"/>
<circle cx="935.9" cy="982.0" r="9.75"/>
<circle cx="964.8" cy="978.4" r="9.75"/>
<circle cx="993.7" cy="980.5" r="9.75"/>
<circle cx="1022.6" cy="984.9" r="9.75"/>
<circle cx="1051.5" cy="976.2" r="9.75"/>
<circle cx="1080.4" cy="1008.8" r="9.75"/>
<circle cx="1109.3" cy="1032.9" r="9.75"/>
<circle cx="1138.1" cy="1026.1" r="9.75"/>
<circle cx="1167.0" cy="1023.5" r="9.75"/>
<circle cx="1195.9" cy="1005.5" r="9.75"/>
<circle cx="1224.8" cy="1013.0" r="9.75"/>
<circle cx="1253.7" cy="1033.3" r="9.75"/>
<circle cx="1282.6" cy="1032.4" r="9.75"/>
<circle cx="1311.5" cy="1023.3" r="9.75"/>
<circle cx="1340.4" cy="1028.4" r="9.75"/>
<circle cx="1369.2" cy="1036.6" r="9.75"/>
<circle cx="1398.1" cy="1037.4" r="9.75"/>
<circle cx="1427.0" cy="1038.0" r="9.75"/>
<circle cx="1455.9" cy="1034.1" r="9.75"/>
<circle cx="1484.8" cy="1039.5" r="9.75"/>
<circle cx="1513.7" cy="1044.0" r="9.75"/>
<circle cx="1542.6" cy="1042.8" r="9.75"/>
<circle cx="1571.5" cy="1047.6" r="9.75"/>
<circle cx="1600.3" cy="1050.5" r="9.75"/>
</g>
</g>
<circle cx="1135.05" cy="230.4" r="19.3" fill="#000"/>
<path d="M1102.65,303.45H1168.35" stroke="#ff0000" stroke-width="17.3" stroke-linecap="round" fill="none"/>
</g>
<g font-size="59.6px" stroke="#000" stroke-width="0.4">
<text x="1185" y="250.4">Simulations</text>
<text x="1184.3" y="323.6">Interpolation</text>
<clipPath id="tl1"><rect x="264.93" y="1075" width="39.15" height="54.9"/><rect x="282.38" y="1129.9" width="5.95" height="8"/></clipPath>
<text x="267.93" y="1135" clip-path="url(#tl1)">1</text>
<clipPath id="tl2"><rect x="820.85" y="1075" width="72.29" height="54.9"/><rect x="838.30" y="1129.9" width="5.95" height="8"/><rect x="857.00" y="1129.9" width="36.15" height="12"/></clipPath>
<text x="823.85" y="1135" clip-path="url(#tl2)">10</text>
<clipPath id="tl3"><rect x="1376.28" y="1075" width="105.44" height="54.9"/><rect x="1393.73" y="1129.9" width="5.95" height="8"/><rect x="1412.43" y="1129.9" width="69.29" height="12"/></clipPath>
<text x="1379.28" y="1135" clip-path="url(#tl3)">100</text>
<text x="882" y="1232" text-anchor="middle">R (nm)</text>
<text transform="translate(72.3,548) rotate(-90)" text-anchor="middle">Probability density function (a.u.)</text>
</g>
</svg></body></html>
